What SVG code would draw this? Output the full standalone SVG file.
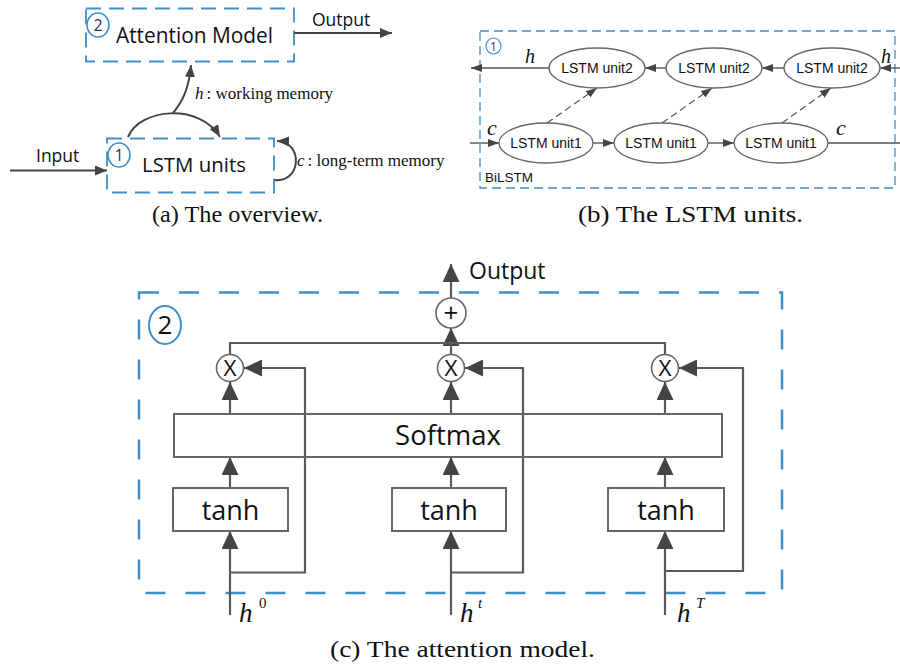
<svg xmlns="http://www.w3.org/2000/svg" width="900" height="669" viewBox="0 0 900 669">
<style>
.bg{fill:#fff}
.dashA{fill:none;stroke:#3f8fcb;stroke-width:1.8;stroke-dasharray:15 8}
.dashB{fill:none;stroke:#3f8fcb;stroke-width:1.3;stroke-dasharray:9 5}
.dashC{fill:none;stroke:#3f8fcb;stroke-width:2.5;stroke-dasharray:20 20}
.badge{fill:#fff;stroke:#3f8fcb;stroke-width:1.6}
.badgeT{font-family:"Open Sans","Liberation Sans",sans-serif;fill:#1f2f6b;text-anchor:middle}
.sans{font-family:"Open Sans","Liberation Sans",sans-serif;fill:#111}
.arial{font-family:"Liberation Sans",Arial,sans-serif;fill:#111}
.serif{font-family:"Liberation Serif","Times New Roman",serif;fill:#111}
.it{font-style:italic}
.la{fill:none;stroke:#444;stroke-width:2}
.lb{fill:none;stroke:#555;stroke-width:1.4}
.lbd{fill:none;stroke:#555;stroke-width:1.2;stroke-dasharray:7 4}
.lc{fill:none;stroke:#5a5a5a;stroke-width:2.2}
.ell{fill:#fff;stroke:#666;stroke-width:1.3}
.box{fill:#fff;stroke:#666;stroke-width:2}
.boxN{fill:none;stroke:#666;stroke-width:2}
.op{fill:#fff;stroke:#666;stroke-width:1.6}
</style>
<defs>
<marker id="ma" viewBox="0 0 12 10" refX="12" refY="5" markerWidth="12" markerHeight="10" markerUnits="userSpaceOnUse" orient="auto"><path d="M0,0 L12,5 L0,10 z" fill="#444"/></marker>
<marker id="mb" viewBox="0 0 11 8" refX="11" refY="4" markerWidth="11" markerHeight="8" markerUnits="userSpaceOnUse" orient="auto"><path d="M0,0 L11,4 L0,8 z" fill="#444"/></marker>
<marker id="mc" viewBox="0 0 18 17" refX="18" refY="8.5" markerWidth="18" markerHeight="17" markerUnits="userSpaceOnUse" orient="auto"><path d="M0,0 L18,8.5 L0,17 z" fill="#444"/></marker>
</defs>
<rect class="bg" x="0" y="0" width="900" height="669"/>

<!-- Panel (a) -->
<g id="a-attention">
<rect class="dashA" x="86" y="8.5" width="208" height="53"/>
<ellipse class="badge" cx="98" cy="25" rx="11" ry="12"/>
<text class="badgeT" x="98" y="31" font-size="16">2</text>
<text class="sans" x="116" y="43" font-size="21" textLength="157" lengthAdjust="spacingAndGlyphs">Attention Model</text>
</g>
<g id="a-lstm">
<rect class="dashA" x="107" y="138.5" width="167" height="54"/>
<ellipse class="badge" cx="119" cy="155" rx="11" ry="12"/>
<text class="badgeT" x="119" y="161" font-size="16">1</text>
<text class="sans" x="142" y="172" font-size="20.5" textLength="104" lengthAdjust="spacingAndGlyphs">LSTM units</text>
</g>
<g id="a-connectors">
<path class="la" d="M10,170.5 L107,170.5" marker-end="url(#ma)"/>
<path class="la" d="M294,33 L392,33" marker-end="url(#ma)"/>
<path class="la" d="M128,137 C140,108 200,103 220,137" marker-end="url(#ma)"/>
<path class="la" d="M173,113 C183,101 189,88 191,65" marker-end="url(#ma)"/>
<path class="la" d="M275,180 C301,183 304,142 277,141" marker-end="url(#ma)"/>
</g>
<g id="a-labels">
<text class="sans" x="36" y="162" font-size="17.5">Input</text>
<text class="sans" x="312" y="26" font-size="17.5">Output</text>
<text class="serif" x="195" y="99" font-size="17"><tspan class="it">h</tspan><tspan dx="3">: working memory</tspan></text>
<text class="serif" x="297" y="166" font-size="17"><tspan class="it">c</tspan><tspan dx="3">: long-term memory</tspan></text>
</g>
<text class="serif" x="152" y="222" font-size="23" textLength="171" lengthAdjust="spacingAndGlyphs">(a) The overview.</text>

<!-- Panel (b) -->
<g id="b-frame">
<rect class="dashB" x="480" y="31" width="415" height="157"/>
<ellipse class="badge" cx="493.5" cy="46" rx="7.5" ry="8" style="stroke-width:1.2"/>
<text class="badgeT" x="493.5" y="50.5" font-size="12">1</text>
<text class="arial" x="485" y="182" font-size="13.5">BiLSTM</text>
</g>
<g id="b-connectors">
<path class="lb" d="M900,68 L880,68" marker-end="url(#mb)"/>
<path class="lb" d="M784,68 L762,68" marker-end="url(#mb)"/>
<path class="lb" d="M666,68 L645,68" marker-end="url(#mb)"/>
<path class="lb" d="M549,68 L471,68" marker-end="url(#mb)"/>
<path class="lb" d="M470,143 L499,143" marker-end="url(#mb)"/>
<path class="lb" d="M593,143 L614,143" marker-end="url(#mb)"/>
<path class="lb" d="M708,143 L734,143" marker-end="url(#mb)"/>
<path class="lb" d="M828,143 L900,143"/>
<path class="lbd" d="M547,123 L597,88" marker-end="url(#mb)"/>
<path class="lbd" d="M662,123 L712,88" marker-end="url(#mb)"/>
<path class="lbd" d="M782,123 L831,88" marker-end="url(#mb)"/>
</g>
<g id="b-u2-1"><ellipse class="ell" cx="597" cy="68" rx="48" ry="20"/><text class="arial" x="597" y="73" font-size="14" text-anchor="middle">LSTM unit2</text></g>
<g id="b-u2-2"><ellipse class="ell" cx="714" cy="68" rx="48" ry="20"/><text class="arial" x="714" y="73" font-size="14" text-anchor="middle">LSTM unit2</text></g>
<g id="b-u2-3"><ellipse class="ell" cx="832" cy="68" rx="48" ry="20"/><text class="arial" x="832" y="73" font-size="14" text-anchor="middle">LSTM unit2</text></g>
<g id="b-u1-1"><ellipse class="ell" cx="546" cy="143" rx="47" ry="20"/><text class="arial" x="546" y="148" font-size="14" text-anchor="middle">LSTM unit1</text></g>
<g id="b-u1-2"><ellipse class="ell" cx="661" cy="143" rx="47" ry="20"/><text class="arial" x="661" y="148" font-size="14" text-anchor="middle">LSTM unit1</text></g>
<g id="b-u1-3"><ellipse class="ell" cx="781" cy="143" rx="47" ry="20"/><text class="arial" x="781" y="148" font-size="14" text-anchor="middle">LSTM unit1</text></g>
<g id="b-labels">
<text class="serif it" x="525" y="63" font-size="20">h</text>
<text class="serif it" x="881" y="63" font-size="20">h</text>
<text class="serif it" x="487" y="135" font-size="22">c</text>
<text class="serif it" x="836" y="135" font-size="22">c</text>
</g>
<text class="serif" x="578" y="222" font-size="23" textLength="225" lengthAdjust="spacingAndGlyphs">(b) The LSTM units.</text>

<!-- Panel (c) -->
<g id="c-frame">
<rect class="dashC" x="139" y="292.5" width="643" height="300.5"/>
<ellipse class="badge" cx="165" cy="325" rx="16" ry="19" style="stroke-width:2"/>
<text class="badgeT" x="165" y="334" font-size="26" style="fill:#111">2</text>
</g>
<g id="c-connectors">
<path class="lc" d="M451,298 L451,264" marker-end="url(#mc)"/>
<path class="lc" d="M451,343 L451,328" marker-end="url(#mc)"/>
<path class="lc" d="M230,355 L230,343 L665,343 L665,355"/>
<path class="lc" d="M451,343 L451,355"/>
<path class="lc" d="M230,414 L230,382" marker-end="url(#mc)"/>
<path class="lc" d="M451,414 L451,382" marker-end="url(#mc)"/>
<path class="lc" d="M665,414 L665,382" marker-end="url(#mc)"/>
<path class="lc" d="M230,488 L230,457" marker-end="url(#mc)"/>
<path class="lc" d="M451,488 L451,457" marker-end="url(#mc)"/>
<path class="lc" d="M665,488 L665,457" marker-end="url(#mc)"/>
<path class="lc" d="M230,615 L230,531" marker-end="url(#mc)"/>
<path class="lc" d="M451,615 L451,531" marker-end="url(#mc)"/>
<path class="lc" d="M665,615 L665,531" marker-end="url(#mc)"/>
<path class="lc" d="M230,572.5 L305,572.5 L305,368 L244,368" marker-end="url(#mc)"/>
<path class="lc" d="M451,572.5 L523,572.5 L523,368 L465,368" marker-end="url(#mc)"/>
<path class="lc" d="M665,571 L743,571 L743,368 L679,368" marker-end="url(#mc)"/>
</g>
<g id="c-softmax">
<rect class="boxN" x="174" y="414" width="548" height="43"/>
<text class="sans" x="448" y="445" font-size="27.5" text-anchor="middle">Softmax</text>
</g>
<g id="c-tanh0"><rect class="box" x="173" y="488" width="115" height="43"/><text class="sans" x="230.5" y="520" font-size="27" text-anchor="middle">tanh</text></g>
<g id="c-tanht"><rect class="box" x="392" y="488" width="114" height="43"/><text class="sans" x="449" y="520" font-size="27" text-anchor="middle">tanh</text></g>
<g id="c-tanhT"><rect class="box" x="608" y="488" width="116" height="43"/><text class="sans" x="666" y="520" font-size="27" text-anchor="middle">tanh</text></g>
<g id="c-mul0"><circle class="op" cx="230" cy="368" r="13.5"/><text class="sans" x="230" y="376" font-size="22" text-anchor="middle" textLength="13" lengthAdjust="spacingAndGlyphs">X</text></g>
<g id="c-mult"><circle class="op" cx="451" cy="368" r="13.5"/><text class="sans" x="451" y="376" font-size="22" text-anchor="middle" textLength="13" lengthAdjust="spacingAndGlyphs">X</text></g>
<g id="c-mulT"><circle class="op" cx="665" cy="368" r="13.5"/><text class="sans" x="665" y="376" font-size="22" text-anchor="middle" textLength="13" lengthAdjust="spacingAndGlyphs">X</text></g>
<g id="c-sum"><circle class="op" cx="451" cy="313" r="15"/><text class="sans" x="451" y="322" font-size="26" text-anchor="middle">+</text></g>
<g id="c-labels">
<text class="sans" x="469" y="279" font-size="23">Output</text>
<text class="serif it" x="239" y="622" font-size="27">h</text><text class="serif" x="259" y="608" font-size="15">0</text>
<text class="serif it" x="460" y="622" font-size="27">h</text><text class="serif it" x="478" y="608" font-size="15">t</text>
<text class="serif it" x="677" y="622" font-size="27">h</text><text class="serif it" x="696" y="608" font-size="15">T</text>
</g>
<text class="serif" x="330" y="657" font-size="23" textLength="265" lengthAdjust="spacingAndGlyphs">(c) The attention model.</text>
</svg>
